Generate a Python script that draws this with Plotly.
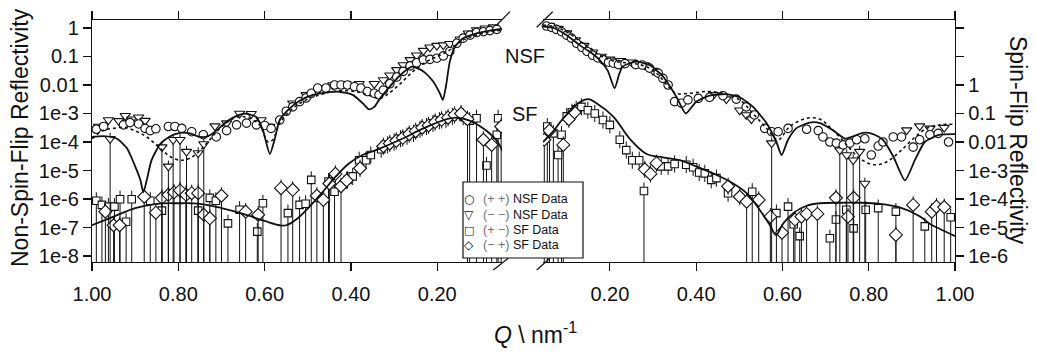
import plotly.graph_objects as go

FONT = "Liberation Sans, Arial, sans-serif"

# ---------------- LEFT PANEL (Q axis reversed) ----------------
L_pp_q = [0.99, 0.973, 0.927, 0.912, 0.892, 0.877, 0.865, 0.852, 0.823, 0.808, 0.792, 0.769, 0.742, 0.712,
          0.688, 0.665, 0.642, 0.619, 0.60, 0.585, 0.565, 0.55, 0.535, 0.519, 0.504, 0.492, 0.477, 0.458,
          0.438, 0.423, 0.408, 0.392, 0.377, 0.362, 0.346, 0.335, 0.325, 0.31, 0.294, 0.279, 0.263, 0.248,
          0.232, 0.217, 0.201, 0.186, 0.171, 0.155, 0.14, 0.124, 0.109, 0.093, 0.078, 0.062, 0.047]
L_pp_r = [2.8e-4, 3.5e-4, 4.0e-4, 4.8e-4, 4.3e-4, 3.0e-4, 2.5e-4, 2.9e-4, 3.5e-4, 3.5e-4, 3.0e-4, 2.3e-4, 1.8e-4, 1.5e-4,
          2.5e-4, 4.0e-4, 4.6e-4, 4.0e-4, 3.8e-4, 3.0e-4, 5.9e-4, 1.2e-3, 1.7e-3, 2.6e-3, 3.5e-3, 5.1e-3, 7.8e-3, 7.8e-3,
          1.0e-2, 1.0e-2, 1.0e-2, 8.7e-3, 7.8e-3, 5.9e-3, 5.1e-3, 4.5e-3, 6.6e-3, 1.1e-2, 1.9e-2, 3.0e-2, 4.7e-2, 6.0e-2,
          7.6e-2, 7.9e-2, 8.7e-2, 0.105, 0.15, 0.29, 0.44, 0.56, 0.69, 0.74, 0.81, 0.89, 0.98]

L_mm_q = [0.985, 0.962, 0.958, 0.938, 0.923, 0.908, 0.892, 0.877, 0.838, 0.823, 0.812, 0.796, 0.781, 0.754,
          0.741, 0.715, 0.688, 0.658, 0.631, 0.608, 0.588, 0.535, 0.504, 0.473, 0.442, 0.412, 0.381, 0.346,
          0.325, 0.31, 0.294, 0.279, 0.263, 0.248, 0.232, 0.217, 0.201, 0.186, 0.171, 0.147, 0.128, 0.109,
          0.089, 0.07]
L_mm_r = [3.5e-4, 5.9e-4, 1.3e-4, 5.5e-4, 8.3e-4, 6.3e-4, 7.4e-4, 5.6e-4, 6.6e-5, 1.4e-5, 1.2e-4, 1.2e-4, 4.6e-5, 4.1e-5,
          8.5e-5, 3.6e-4, 4.6e-4, 1.0e-3, 9.8e-4, 5.9e-4, 3.5e-4, 2.3e-3, 4.5e-3, 7.8e-3, 1.0e-2, 1.1e-2, 1.1e-2, 1.1e-2,
          1.5e-2, 2.2e-2, 3.4e-2, 5.0e-2, 7.6e-2, 0.11, 0.16, 0.21, 0.24, 0.25, 0.28, 0.40, 0.65, 0.85,
          0.98, 1.07]
L_mm_long = [0, 0, 1, 0, 0, 0, 0, 0, 1, 1, 1, 1, 1, 1,
             1, 0, 0, 0, 0, 0, 0, 0, 0, 0, 0, 0, 0, 0,
             0, 0, 0, 0, 0, 0, 0, 0, 0, 0, 0, 0, 0, 0,
             0, 0]

L_pm_q = [0.99, 0.977, 0.962, 0.948, 0.935, 0.921, 0.908, 0.865, 0.838, 0.782, 0.754, 0.727, 0.713, 0.685,
          0.658, 0.617, 0.604, 0.546, 0.519, 0.505, 0.492, 0.452, 0.438, 0.408, 0.396, 0.381, 0.365, 0.354,
          0.33, 0.315, 0.30, 0.285, 0.27, 0.255, 0.24, 0.225, 0.21, 0.195, 0.18, 0.165, 0.14, 0.125,
          0.109, 0.086, 0.062, 0.059]
L_pm_r = [8.7e-7, 6.2e-7, 5.4e-7, 5.4e-7, 9.8e-7, 1.6e-7, 9.8e-7, 8.7e-7, 3.9e-7, 1.5e-6, 3.9e-7, 1.1e-6, 8.7e-7, 1.4e-7,
          4.2e-7, 7.2e-8, 7.1e-7, 3.2e-7, 6.2e-7, 6.8e-7, 4.7e-6, 4.1e-6, 1.8e-6, 4.7e-6, 6.2e-6, 2.3e-5, 2.3e-5, 3.5e-5,
          5.6e-5, 7.9e-5, 1.0e-4, 1.3e-4, 1.6e-4, 2.0e-4, 2.8e-4, 3.5e-4, 4.5e-4, 5.6e-4, 6.3e-4, 7.9e-4, 7.8e-4, 5.6e-4,
          6.8e-4, 1.5e-5, 1.8e-4, 6.8e-4]
L_pm_long = [1, 1, 1, 1, 1, 1, 1, 1, 1, 1, 1, 1, 1, 1,
             1, 1, 1, 1, 1, 1, 1, 1, 1, 0, 0, 0, 0, 0,
             0, 0, 0, 0, 0, 0, 0, 0, 0, 0, 0, 0, 0, 1,
             1, 1, 1, 1]

L_mp_q = [0.969, 0.95, 0.936, 0.879, 0.852, 0.838, 0.823, 0.81, 0.796, 0.782, 0.769, 0.754, 0.741, 0.727,
          0.70, 0.644, 0.615, 0.562, 0.535, 0.479, 0.464, 0.45, 0.436, 0.423, 0.41, 0.379,
          0.325, 0.31, 0.295, 0.28, 0.265, 0.25, 0.235, 0.22, 0.205, 0.19, 0.175, 0.16, 0.145, 0.13,
          0.093, 0.074, 0.052]
L_mp_r = [3.6e-7, 1.2e-7, 1.2e-7, 1.2e-6, 3.3e-7, 1.1e-6, 1.4e-6, 1.7e-6, 2.0e-6, 1.4e-6, 1.6e-6, 1.6e-6, 2.8e-7, 2.1e-7,
          1.3e-6, 3.6e-7, 2.8e-7, 2.4e-6, 2.1e-6, 1.3e-6, 9.3e-7, 3.5e-6, 7.6e-6, 2.8e-6, 4.5e-6, 1.2e-5,
          7.1e-5, 8.9e-5, 1.1e-4, 1.4e-4, 1.9e-4, 2.4e-4, 3.2e-4, 3.8e-4, 5.0e-4, 6.0e-4, 7.1e-4, 8.9e-4, 1.0e-3, 6.3e-4,
          1.2e-4, 7.9e-5, 3.5e-4]
L_mp_long = [1, 1, 1, 1, 1, 1, 1, 1, 1, 1, 1, 1, 1, 1,
             1, 1, 1, 1, 1, 1, 1, 1, 0, 1, 0, 0,
             0, 0, 0, 0, 0, 0, 0, 0, 0, 0, 0, 0, 0, 1,
             1, 1, 1]

L_fit_nsf_q = [1.0, 0.973, 0.942, 0.919, 0.90, 0.888, 0.881, 0.873, 0.862, 0.842, 0.819, 0.796, 0.773, 0.75,
               0.731, 0.712, 0.688, 0.665, 0.642, 0.619, 0.604, 0.588, 0.577, 0.565, 0.542, 0.519, 0.488, 0.458,
               0.427, 0.396, 0.373, 0.358, 0.346, 0.335, 0.317, 0.286, 0.259, 0.232, 0.209, 0.194, 0.187, 0.18,
               0.171, 0.159, 0.14, 0.109, 0.078, 0.043]
L_fit_nsf_r = [1.5e-4, 1.6e-4, 1.3e-4, 6.0e-5, 1.4e-5, 4.7e-6, 1.7e-6, 4.7e-6, 2.3e-5, 8.5e-5, 1.6e-4, 2.1e-4, 2.0e-4, 1.5e-4,
               1.6e-4, 2.5e-4, 5.2e-4, 8.3e-4, 9.8e-4, 7.4e-4, 2.6e-4, 3.8e-5, 1.2e-4, 5.9e-4, 1.5e-3, 2.8e-3, 4.5e-3, 5.4e-3,
               5.8e-3, 4.5e-3, 2.3e-3, 1.4e-3, 1.7e-3, 3.0e-3, 6.6e-3, 2.2e-2, 4.4e-2, 3.0e-2, 1.3e-2, 5.1e-3, 3.0e-3, 8.7e-3,
               6.6e-2, 0.22, 0.44, 0.65, 0.81, 0.95]

L_fit_nsf2_q = [1.0, 0.973, 0.95, 0.927, 0.904, 0.873, 0.842, 0.819, 0.796, 0.773, 0.75, 0.727, 0.704, 0.681,
                0.658, 0.635, 0.612, 0.592, 0.581, 0.565, 0.535, 0.504, 0.473, 0.442, 0.412, 0.381, 0.35, 0.335,
                0.317, 0.286, 0.256, 0.225, 0.194, 0.171, 0.147, 0.117, 0.085, 0.047]
L_fit_nsf2_r = [1.3e-4, 2.6e-4, 3.0e-4, 3.3e-4, 2.6e-4, 1.5e-4, 6.0e-5, 3.1e-5, 2.3e-5, 2.7e-5, 5.0e-5, 1.2e-4, 3.0e-4, 5.6e-4,
                7.8e-4, 6.8e-4, 4.0e-4, 1.0e-4, 1.2e-4, 4.6e-4, 1.5e-3, 3.0e-3, 4.5e-3, 5.9e-3, 6.3e-3, 5.6e-3, 3.9e-3, 3.4e-3,
                4.5e-3, 1.1e-2, 3.0e-2, 6.6e-2, 0.11, 0.17, 0.33, 0.52, 0.69, 0.85]

L_fit_sf_q = [1.0, 0.95, 0.90, 0.85, 0.80, 0.75, 0.70, 0.65, 0.60, 0.565, 0.55, 0.527, 0.496, 0.465, 0.435,
              0.404, 0.373, 0.342, 0.286, 0.232, 0.178, 0.155, 0.125, 0.10, 0.075, 0.06, 0.045]
L_fit_sf_r = [1.2e-7, 2.4e-7, 4.8e-7, 6.8e-7, 7.1e-7, 6.8e-7, 4.8e-7, 3.0e-7, 1.7e-7, 1.2e-7, 1.2e-7, 1.9e-7, 5.4e-7, 1.8e-6, 6.2e-6,
              1.8e-5, 3.5e-5, 5.2e-5, 1.2e-4, 3.0e-4, 6.3e-4, 7.1e-4, 5.6e-4, 3.5e-4, 1.8e-4, 1.0e-4, 3.5e-5]

# ---------------- RIGHT PANEL ----------------
R_pp_q = [0.053, 0.065, 0.076, 0.088, 0.10, 0.111, 0.123, 0.135, 0.147, 0.16, 0.172, 0.185, 0.197, 0.208,
          0.22, 0.235, 0.26, 0.275, 0.292, 0.312, 0.323, 0.335, 0.35, 0.366, 0.381, 0.405, 0.431, 0.462,
          0.493, 0.516, 0.535, 0.559, 0.575, 0.59, 0.613, 0.656, 0.683, 0.694, 0.71, 0.725, 0.741, 0.756,
          0.772, 0.791, 0.806, 0.822, 0.833, 0.857, 0.876, 0.903, 0.918, 0.942, 0.961, 0.985]
R_pp_r = [1.17, 1.05, 0.89, 0.74, 0.56, 0.44, 0.29, 0.21, 0.15, 0.11, 8.9e-2, 7.6e-2, 6.3e-2, 5.8e-2,
          5.2e-2, 5.6e-2, 5.2e-2, 5.0e-2, 3.9e-2, 2.6e-2, 1.7e-2, 1.0e-2, 2.6e-3, 2.3e-3, 3.0e-3, 3.4e-3, 3.7e-3, 4.2e-3,
          3.2e-3, 1.7e-3, 8.9e-4, 3.0e-4, 2.3e-4, 2.3e-4, 3.0e-4, 2.8e-4, 2.5e-4, 1.5e-4, 1.0e-4, 9.1e-5, 7.9e-5, 9.1e-5,
          1.2e-4, 1.3e-4, 3.5e-5, 7.2e-5, 1.0e-4, 1.5e-4, 1.5e-4, 6.6e-5, 1.2e-4, 1.8e-4, 2.0e-4, 1.0e-4]

R_mm_q = [0.06, 0.08, 0.10, 0.12, 0.14, 0.16, 0.18, 0.20, 0.225, 0.25, 0.28, 0.30, 0.44, 0.47,
          0.501, 0.516, 0.528, 0.575, 0.733, 0.749, 0.764, 0.779, 0.791, 0.888, 0.918, 0.942, 0.975]
R_mm_r = [1.2, 0.95, 0.66, 0.38, 0.24, 0.14, 0.10, 7.9e-2, 7.1e-2, 6.3e-2, 5.0e-2, 3.2e-2, 4.5e-3, 3.2e-3,
          1.3e-3, 8.9e-4, 6.3e-4, 9.1e-5, 5.2e-5, 3.5e-5, 2.3e-5, 4.6e-5, 3.5e-6, 2.6e-4, 3.6e-4, 3.0e-4, 3.2e-4]
R_mm_long = [0, 0, 0, 0, 0, 0, 0, 0, 0, 0, 0, 0, 0, 0,
             0, 0, 0, 1, 1, 1, 1, 1, 1, 0, 0, 0, 0]

R_pm_q = [0.055, 0.069, 0.08, 0.088, 0.10, 0.112, 0.122, 0.134, 0.149, 0.165, 0.184, 0.20, 0.223, 0.238,
          0.252, 0.268, 0.279, 0.319, 0.335, 0.35, 0.377, 0.393, 0.407, 0.42, 0.435, 0.447, 0.474, 0.53,
          0.586, 0.613, 0.626, 0.64, 0.71, 0.724, 0.748, 0.765, 0.793, 0.822, 0.863, 0.93, 0.99]
R_pm_r = [3.5e-4, 2.0e-4, 3.5e-5, 1.8e-4, 7.9e-4, 1.1e-3, 1.4e-3, 1.7e-3, 1.3e-3, 1.0e-3, 5.9e-4, 4.0e-4, 1.2e-4, 5.2e-5,
          2.3e-5, 2.3e-5, 1.9e-6, 1.4e-5, 1.4e-5, 1.7e-5, 1.6e-5, 1.3e-5, 8.5e-6, 7.9e-6, 4.7e-6, 5.4e-6, 1.6e-6, 1.8e-6,
          3.2e-7, 5.4e-7, 1.3e-7, 5.0e-8, 4.2e-8, 1.9e-7, 4.2e-7, 9.3e-8, 4.2e-7, 4.8e-7, 3.6e-7, 1.1e-7, 2.3e-7]
R_pm_long = [1, 1, 1, 1, 0, 0, 0, 0, 0, 0, 0, 0, 0, 0,
             0, 0, 1, 0, 0, 0, 0, 0, 0, 0, 0, 0, 0, 1,
             1, 1, 1, 1, 1, 1, 1, 1, 1, 1, 1, 1, 1]

R_mp_q = [0.048, 0.06, 0.092, 0.105, 0.118, 0.281, 0.294, 0.308, 0.474, 0.501, 0.517, 0.545, 0.572, 0.599,
          0.629, 0.644, 0.656, 0.681, 0.724, 0.752, 0.765, 0.863, 0.903, 0.946, 0.957, 0.975]
R_mp_r = [1.2e-4, 2.5e-4, 7.9e-5, 6.3e-4, 1.1e-3, 1.1e-5, 7.6e-6, 1.8e-5, 2.8e-6, 1.2e-6, 8.1e-7, 9.3e-7, 2.4e-7, 6.6e-8,
          1.9e-7, 2.4e-7, 3.0e-7, 3.0e-7, 1.1e-6, 2.4e-7, 1.1e-6, 5.5e-8, 6.2e-7, 3.6e-7, 5.4e-7, 5.2e-7]
R_mp_long = [1, 1, 1, 0, 0, 0, 0, 0, 0, 0, 1, 1, 1, 1,
             1, 1, 1, 1, 1, 1, 1, 1, 1, 1, 1, 1]

R_fit_nsf_q = [0.045, 0.07, 0.10, 0.13, 0.155, 0.176, 0.195, 0.211, 0.222, 0.23, 0.261, 0.292, 0.323, 0.354,
               0.376, 0.40, 0.431, 0.47, 0.501, 0.532, 0.563, 0.586, 0.598, 0.613, 0.632, 0.663, 0.687, 0.717,
               0.745, 0.76, 0.787, 0.81, 0.833, 0.857, 0.884, 0.907, 0.93, 0.965, 1.0]
R_fit_nsf_r = [1.12, 1.0, 0.56, 0.25, 0.14, 7.6e-2, 3.2e-2, 7.8e-3, 2.5e-2, 4.5e-2, 6.6e-2, 5.0e-2, 2.0e-2, 3.9e-3,
               1.0e-3, 2.6e-3, 4.2e-3, 4.8e-3, 3.7e-3, 1.7e-3, 4.6e-4, 1.0e-4, 3.5e-5, 1.2e-4, 3.0e-4, 4.8e-4, 4.6e-4, 2.6e-4,
               1.3e-4, 1.5e-4, 2.1e-4, 1.9e-4, 1.2e-4, 3.1e-5, 4.5e-6, 2.3e-5, 1.0e-4, 1.8e-4, 1.9e-4]

R_fit_nsf2_q = [0.045, 0.076, 0.107, 0.13, 0.155, 0.176, 0.20, 0.223, 0.25, 0.269, 0.29, 0.308, 0.339, 0.354,
                0.385, 0.424, 0.462, 0.501, 0.532, 0.563, 0.59, 0.617, 0.656, 0.687, 0.717, 0.749, 0.779, 0.81,
                0.841, 0.872, 0.903, 0.934, 0.965, 1.0]
R_fit_nsf2_r = [1.26, 1.07, 0.63, 0.35, 0.20, 0.11, 7.6e-2, 6.3e-2, 5.8e-2, 5.2e-2, 4.0e-2, 2.6e-2, 7.8e-3, 5.1e-3,
                5.1e-3, 5.9e-3, 5.1e-3, 3.0e-3, 1.0e-3, 3.0e-4, 1.2e-4, 3.5e-4, 6.8e-4, 6.3e-4, 2.6e-4, 7.9e-5, 2.7e-5, 1.6e-5,
                2.0e-5, 4.6e-5, 1.3e-4, 3.0e-4, 4.0e-4, 4.2e-4]

R_fit_sf_q = [0.045, 0.07, 0.09, 0.11, 0.13, 0.15, 0.169, 0.208, 0.246, 0.285, 0.323, 0.362, 0.40, 0.439,
              0.478, 0.517, 0.547, 0.571, 0.585, 0.602, 0.625, 0.656, 0.687, 0.733, 0.779, 0.826, 0.872, 0.918,
              0.943, 0.965, 1.0]
R_fit_sf_r = [1.0e-4, 2.5e-4, 6.3e-4, 1.3e-3, 2.5e-3, 3.2e-3, 2.3e-3, 7.8e-4, 1.3e-4, 3.8e-5, 2.9e-5, 2.3e-5, 1.4e-5, 7.9e-6,
              4.1e-6, 1.6e-6, 4.2e-7, 1.2e-7, 5.5e-8, 1.4e-7, 3.2e-7, 5.8e-7, 7.1e-7, 7.4e-7, 7.4e-7, 6.8e-7, 5.1e-7, 2.5e-7,
              1.3e-7, 8.9e-8, 5.0e-8]

# ---------------- axes / labels ----------------
Q_TICKS = [1.0, 0.8, 0.6, 0.4, 0.2]
Q_TICKTEXT = ["1.00", "0.80", "0.60", "0.40", "0.20"]
NSF_TICKS = [1, 0.1, 0.01, 1e-3, 1e-4, 1e-5, 1e-6, 1e-7, 1e-8]
NSF_TICKTEXT = ["1", "0.1", "0.01", "1e-3", "1e-4", "1e-5", "1e-6", "1e-7", "1e-8"]
SF_TICKS = [1, 0.1, 0.01, 1e-3, 1e-4, 1e-5, 1e-6]
SF_TICKTEXT = ["1", "0.1", "0.01", "1e-3", "1e-4", "1e-5", "1e-6"]
SF_UNLABELLED_TICKS = [100, 10]

LEGEND_SYMBOLS = ["○", "▽", "□", "◇"]
LEGEND_SPINS = ["(+ +)", "(− −)", "(+ −)", "(− +)"]
LEGEND_NAMES = ["NSF Data", "NSF Data", "SF Data", "SF Data"]

BLACK = "#111111"


def errbars(r, flags, up=1.0, dn=0.5, only_flagged=False):
    plus, minus = [], []
    for v, f in zip(r, flags):
        if f:
            plus.append(v * up)
            minus.append(v)
        elif only_flagged:
            plus.append(0)
            minus.append(0)
        else:
            plus.append(v * up)
            minus.append(v * dn)
    return dict(type="data", symmetric=False, array=plus, arrayminus=minus,
                color=BLACK, thickness=1, width=0)


def marker(symbol, size):
    return dict(symbol=symbol, size=size, color="white", line=dict(color=BLACK, width=1.1))


fig = go.Figure()

panels = [
    ("x", L_pp_q, L_pp_r, L_mm_q, L_mm_r, L_mm_long, L_pm_q, L_pm_r, L_pm_long, L_mp_q, L_mp_r, L_mp_long,
     L_fit_nsf_q, L_fit_nsf_r, L_fit_nsf2_q, L_fit_nsf2_r, L_fit_sf_q, L_fit_sf_r),
    ("x2", R_pp_q, R_pp_r, R_mm_q, R_mm_r, R_mm_long, R_pm_q, R_pm_r, R_pm_long, R_mp_q, R_mp_r, R_mp_long,
     R_fit_nsf_q, R_fit_nsf_r, R_fit_nsf2_q, R_fit_nsf2_r, R_fit_sf_q, R_fit_sf_r),
]

for (xa, ppq, ppr, mmq, mmr, mml, pmq, pmr, pml, mpq, mpr, mpl,
     fnq, fnr, fn2q, fn2r, fsq, fsr) in panels:
    fig.add_trace(go.Scatter(x=pmq, y=pmr, xaxis=xa, yaxis="y", mode="markers", name="(+ −) SF Data",
                             marker=marker("square", 7.5), error_y=errbars(pmr, pml), hoverinfo="skip"))
    fig.add_trace(go.Scatter(x=mpq, y=mpr, xaxis=xa, yaxis="y", mode="markers", name="(− +) SF Data",
                             marker=marker("diamond", 10), error_y=errbars(mpr, mpl), hoverinfo="skip"))
    fig.add_trace(go.Scatter(x=mmq, y=mmr, xaxis=xa, yaxis="y", mode="markers", name="(− −) NSF Data",
                             marker=marker("triangle-down", 9),
                             error_y=errbars(mmr, mml, up=0.6, only_flagged=True), hoverinfo="skip"))
    fig.add_trace(go.Scatter(x=ppq, y=ppr, xaxis=xa, yaxis="y", mode="markers", name="(+ +) NSF Data",
                             cliponaxis=False, marker=marker("circle", 8.5), hoverinfo="skip"))
    fig.add_trace(go.Scatter(x=fn2q, y=fn2r, xaxis=xa, yaxis="y", mode="lines",
                             line=dict(color=BLACK, width=1.6, dash="dot", shape="spline"), hoverinfo="skip"))
    fig.add_trace(go.Scatter(x=fnq, y=fnr, xaxis=xa, yaxis="y", mode="lines",
                             line=dict(color=BLACK, width=1.8, shape="spline", smoothing=0.6), hoverinfo="skip"))
    fig.add_trace(go.Scatter(x=fsq, y=fsr, xaxis=xa, yaxis="y", mode="lines",
                             line=dict(color=BLACK, width=1.8, shape="spline"), hoverinfo="skip"))

# right-hand (spin-flip) scale
fig.add_trace(go.Scatter(x=[None], y=[None], xaxis="x2", yaxis="y2", mode="markers", hoverinfo="skip"))

axis_common = dict(showline=True, linecolor=BLACK, linewidth=1.2, ticks="outside", ticklen=8,
                   tickcolor=BLACK, tickwidth=1.2, showgrid=False, zeroline=False,
                   tickfont=dict(family=FONT, size=20, color=BLACK))

fig.update_layout(
    width=1037, height=354,
    margin=dict(l=92, r=82, t=20, b=92, autoexpand=False),
    paper_bgcolor="white", plot_bgcolor="white",
    font=dict(family=FONT, color=BLACK),
    showlegend=False,
    xaxis=dict(domain=[0, 0.4751], range=[1.0, 0.05], anchor="y", mirror="ticks",
               tickvals=Q_TICKS, ticktext=Q_TICKTEXT, ticklabelstandoff=6, **axis_common),
    xaxis2=dict(domain=[0.5226, 1], range=[0.045, 1.0], anchor="y", mirror="ticks",
                tickvals=Q_TICKS, ticktext=Q_TICKTEXT, ticklabelstandoff=6, **axis_common),
    yaxis=dict(type="log", range=[-8.21, 0.28], anchor="x", side="left",
               tickvals=NSF_TICKS, ticktext=NSF_TICKTEXT, **axis_common),
    yaxis2=dict(type="log", range=[-6.21, 2.28], anchor="x2", side="right", overlaying="y",
                tickvals=SF_TICKS, ticktext=SF_TICKTEXT,
                minor=dict(tickmode="array", tickvals=SF_UNLABELLED_TICKS, ticks="outside", ticklen=8,
                           tickwidth=1.2, tickcolor=BLACK, showgrid=False),
                **axis_common),
)


def px(x):
    return (x - 92) / 863.0


def py(y):
    return 1 - (y - 20) / 242.0


slashes = [((493.3, 270), (508.3, 258.3)), ((536.7, 270), (550, 258.3)),
           ((496.7, 25), (510, 11.7)), ((536.7, 27.3), (552.7, 11.7))]
for (a, b) in slashes:
    fig.add_shape(type="line", xref="paper", yref="paper", x0=px(a[0]), y0=py(a[1]),
                  x1=px(b[0]), y1=py(b[1]), line=dict(color=BLACK, width=1.2))

# legend box (drawn above the data, like the original inset key)
fig.add_shape(type="rect", xref="paper", yref="paper", x0=px(463), x1=px(583), y0=py(258), y1=py(182),
              fillcolor="white", line=dict(color=BLACK, width=1.2), layer="above")
row_y = [199, 214.5, 230, 245]
sym_sizes = [12, 12, 11, 12]
for sym, ssz, spin, name, ry in zip(LEGEND_SYMBOLS, sym_sizes, LEGEND_SPINS, LEGEND_NAMES, row_y):
    fig.add_annotation(text=sym, x=px(469), y=py(ry), xref="paper", yref="paper", showarrow=False,
                       xanchor="center", yanchor="middle",
                       font=dict(family="DejaVu Sans", size=ssz, color=BLACK))
    fig.add_annotation(text=f'<span style="color:#707070">{spin}</span> {name}', x=px(481), y=py(ry),
                       xref="paper", yref="paper", showarrow=False, xanchor="left", yanchor="middle",
                       font=dict(family=FONT, size=12.5, color=BLACK))

ann = [
    dict(text="NSF", x=px(525), y=py(56), size=20, angle=0),
    dict(text="SF", x=px(525), y=py(114), size=20, angle=0),
    dict(text="Non-Spin-Flip Reflectivity", x=px(20), y=py(138), size=23, angle=-90),
    dict(text="Spin-Flip Reflectivity", x=px(1018), y=py(140), size=23, angle=90),
    dict(text="<i>Q</i> \\ nm<sup>-1</sup>", x=px(535), y=py(333), size=23, angle=0),
]
for a in ann:
    fig.add_annotation(text=a["text"], x=a["x"], y=a["y"], xref="paper", yref="paper",
                       showarrow=False, textangle=a["angle"], xanchor="center", yanchor="middle",
                       font=dict(family=FONT, size=a["size"], color=BLACK))

fig.write_html("out.html", config={"displayModeBar": False, "staticPlot": True},
               post_script="document.body.style.margin='0';")
